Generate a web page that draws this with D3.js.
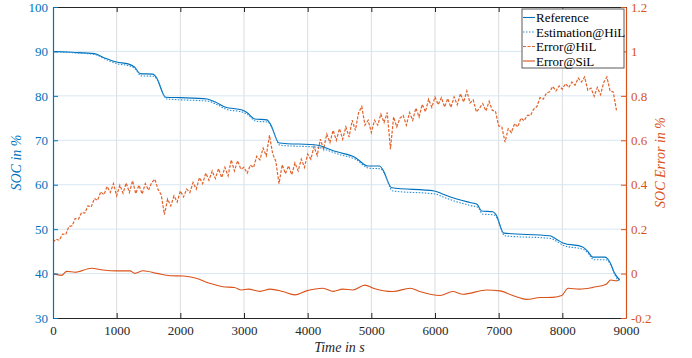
<!DOCTYPE html>
<html><head><meta charset="utf-8">
<script src="https://cdn.jsdelivr.net/npm/d3@7"></script>
<style>body{margin:0;background:#fff}svg,text{font-family:"Liberation Serif","Times New Roman",Times,serif}</style>
</head><body><svg id="c" width="692" height="358" font-family="Liberation Serif"></svg>
<script>
const xTicks=[0,1000,2000,3000,4000,5000,6000,7000,8000,9000];
const leftTicks=[30,40,50,60,70,80,90,100];
const rightTicks=[-0.2,0,0.2,0.4,0.6,0.8,1,1.2];
const seriesNames=["Reference","Estimation@HiL","Error@HiL","Error@SiL"];

const refT=[0,300,650,800,1000,1180,1280,1370,1570,1620,1770,2000,2420,2550,2700,2970,3050,3170,3360,3420,3550,4160,4300,4460,4740,4950,5130,5180,5320,5990,6100,6230,6550,6660,6730,6910,6960,7080,7800,7900,8010,8320,8400,8480,8670,8750,8820,8900];
const refV=[90,89.8,89.5,88.6,87.6,87.2,86.5,85,84.9,84.2,79.7,79.6,79.3,78.6,77.5,76.8,76.2,74.8,74.6,73.5,69.4,68.9,68.2,67.4,66.2,64.2,64.2,63.4,59.3,58.6,58.0,57.3,56.0,55.6,54.1,53.9,53.2,49.1,48.5,47.8,46.9,46.0,45.0,43.7,43.7,42.5,40.1,38.6];
const estV=[90,89.7,89.3,88.3,87.2,86.8,86.0,84.5,84.4,83.7,79.3,79.1,78.8,78.1,77.0,76.3,75.7,74.3,74.1,72.9,68.9,68.4,67.7,66.9,65.7,63.7,63.6,62.8,58.6,57.9,57.3,56.6,55.3,54.9,53.4,53.2,52.5,48.5,47.9,47.2,46.3,45.4,44.4,43.1,43.1,41.8,39.4,38.1];

const hilStep=50;
const hilV=[
0.142,0.155,0.150,0.178,0.176,0.212,0.215,0.248,0.245,0.275,
0.272,0.305,0.300,0.338,0.330,0.368,0.355,0.392,0.365,0.405,
0.350,0.398,0.362,0.408,0.365,0.418,0.360,0.398,0.358,0.405,
0.375,0.410,0.425,0.378,0.355,0.265,0.335,0.305,0.350,0.322,
0.372,0.345,0.380,0.365,0.410,0.380,0.432,0.405,0.452,0.420,
0.462,0.428,0.472,0.432,0.478,0.440,0.512,0.462,0.508,0.470,
0.478,0.452,0.488,0.478,0.528,0.512,0.565,0.530,0.622,0.540,
0.505,0.405,0.490,0.450,0.485,0.445,0.498,0.462,0.515,0.478,
0.538,0.515,0.572,0.532,0.605,0.560,0.628,0.590,0.645,0.600,
0.652,0.605,0.660,0.615,0.690,0.645,0.725,0.752,0.668,0.690,
0.635,0.690,0.668,0.718,0.680,0.725,0.560,0.705,0.660,0.700,
0.712,0.668,0.725,0.690,0.745,0.705,0.762,0.728,0.785,0.748,
0.795,0.760,0.792,0.750,0.788,0.748,0.795,0.760,0.810,0.772,
0.822,0.768,0.782,0.728,0.745,0.765,0.732,0.775,0.735,0.730,
0.665,0.660,0.592,0.652,0.635,0.675,0.660,0.700,0.688,0.712,
0.712,0.740,0.752,0.792,0.785,0.812,0.818,0.842,0.822,0.845,
0.830,0.855,0.838,0.862,0.848,0.880,0.862,0.885,0.825,0.835,
0.798,0.838,0.805,0.860,0.885,0.822,0.818,0.735];

const silT=[0,135,215,345,605,785,1000,1210,1285,1415,1630,1840,2050,2250,2460,2670,2850,2960,3070,3250,3410,3610,3800,3980,4240,4400,4550,4710,4900,5030,5340,5610,5760,6080,6280,6440,6810,7020,7220,7440,7650,7850,7990,8090,8270,8480,8690,8760,8850,8900];
const silV=[0,-0.008,0.01,0.006,0.024,0.016,0.012,0.012,0.001,0.013,0.001,-0.01,-0.011,-0.021,-0.044,-0.059,-0.063,-0.074,-0.07,-0.08,-0.07,-0.081,-0.096,-0.078,-0.066,-0.08,-0.07,-0.074,-0.052,-0.066,-0.081,-0.066,-0.081,-0.099,-0.081,-0.093,-0.074,-0.078,-0.099,-0.116,-0.108,-0.107,-0.099,-0.066,-0.07,-0.062,-0.048,-0.029,-0.033,-0.024];

const BLUE="#0072BD", BLUE2="#2b8fd6", ORANGE="#D95319", ORANGE2="#E2622A", DARK="#262626";
const FONT='"Liberation Serif","Times New Roman",serif';
const PL=53,PR=626,PT=7,PB=318;
const svg=d3.select("#c");
const x=d3.scaleLinear().domain([0,9000]).range([PL,PR]);
const yL=d3.scaleLinear().domain([30,100]).range([PB,PT]);
const yR=d3.scaleLinear().domain([-0.2,1.2]).range([PB,PT]);

svg.append("defs").append("clipPath").attr("id","clip").append("rect").attr("x",PL).attr("y",PT).attr("width",PR-PL).attr("height",PB-PT);

// grid
const grid=svg.append("g");
grid.selectAll("line.v").data(xTicks.slice(1,-1)).join("line").attr("class","v")
 .attr("x1",d=>x(d)).attr("x2",d=>x(d)).attr("y1",PT).attr("y2",PB)
 .attr("stroke","#dcdcdc").attr("stroke-width",1);
grid.selectAll("line.h").data(leftTicks.slice(1,-1)).join("line").attr("class","h")
 .attr("x1",PL).attr("x2",PR).attr("y1",d=>yL(d)).attr("y2",d=>yL(d))
 .attr("stroke","#d8e7f3").attr("stroke-width",1);

const plot=svg.append("g").attr("clip-path","url(#clip)");
const refData=refT.map((t,i)=>[t,refV[i]]);
const estData=refT.map((t,i)=>[t+15,estV[i]]);
const hilData=hilV.map((v,i)=>[i*hilStep,v]);
const silData=silT.map((t,i)=>[t,silV[i]]);
const lineL=d3.line().x(d=>x(d[0])).y(d=>yL(d[1])).curve(d3.curveMonotoneX);
const lineR=d3.line().x(d=>x(d[0])).y(d=>yR(d[1]));
const lineRs=d3.line().x(d=>x(d[0])).y(d=>yR(d[1])).curve(d3.curveMonotoneX);

plot.append("path").attr("d",lineRs(silData)).attr("fill","none").attr("stroke",ORANGE).attr("stroke-width",1.1);
plot.append("path").attr("d",lineR(hilData)).attr("fill","none").attr("stroke",ORANGE2).attr("stroke-width",1.2).attr("stroke-dasharray","3,1.5");
plot.append("path").attr("d",lineL(refData)).attr("fill","none").attr("stroke",BLUE).attr("stroke-width",1.1);
plot.append("path").attr("d",lineL(estData)).attr("fill","none").attr("stroke",BLUE2).attr("stroke-width",1.1).attr("stroke-dasharray","1.5,1.5");

// axes
const fmt=v=>String(+v.toFixed(1));
const styleAx=(sel,color)=>{sel.attr("font-family",FONT).attr("font-size",13);sel.selectAll("path").attr("stroke",color);sel.selectAll("line").attr("stroke",color);sel.selectAll("text").attr("fill",color).attr("font-size","13px").attr("font-family",FONT);};
const axB=svg.append("g").attr("transform",`translate(0,${PB})`).call(d3.axisBottom(x).tickValues(xTicks).tickSize(-5).tickSizeOuter(0).tickPadding(8).tickFormat(d3.format("d")));
styleAx(axB,DARK);
const axT=svg.append("g").attr("transform",`translate(0,${PT})`).call(d3.axisTop(x).tickValues(xTicks).tickSize(-5).tickSizeOuter(0).tickFormat(""));
styleAx(axT,DARK);
const axL=svg.append("g").attr("transform",`translate(${PL},0)`).call(d3.axisLeft(yL).tickValues(leftTicks).tickSize(-5).tickSizeOuter(0).tickPadding(5));
styleAx(axL,BLUE);
const axR=svg.append("g").attr("transform",`translate(${PR},0)`).call(d3.axisRight(yR).tickValues(rightTicks).tickSize(-5).tickSizeOuter(0).tickPadding(5).tickFormat(fmt));
styleAx(axR,ORANGE);
svg.selectAll(".domain").attr("stroke-width",1.2);

// labels
const lab=(t)=>t.attr("font-family",FONT).attr("font-size","14px").attr("font-style","italic").attr("text-anchor","middle");
lab(svg.append("text").attr("x",(PL+PR)/2).attr("y",352).attr("fill",DARK).text("Time in s"));
lab(svg.append("text").attr("transform",`translate(21,${(PT+PB)/2}) rotate(-90)`).attr("fill",BLUE).text("SOC in %"));
lab(svg.append("text").attr("transform",`translate(665,${(PT+PB)/2}) rotate(-90)`).attr("fill",ORANGE).text("SOC Error in %"));

// legend
const lg=svg.append("g").attr("transform","translate(522,9)");
lg.append("rect").attr("width",102).attr("height",59).attr("fill","#fff").attr("stroke","#5a5a5a").attr("stroke-width",1);
const styles=[{c:BLUE,d:null},{c:BLUE2,d:"1.5,1.5"},{c:ORANGE2,d:"3,1.5"},{c:ORANGE,d:null}];
seriesNames.forEach((n,i)=>{
  const yy=8.5+i*14.5;
  lg.append("line").attr("x1",1).attr("x2",13).attr("y1",yy).attr("y2",yy).attr("stroke",styles[i].c).attr("stroke-width",1.1).attr("stroke-dasharray",styles[i].d);
  lg.append("text").attr("x",14).attr("y",yy+4.5).attr("font-family",FONT).attr("font-size","13px").attr("fill","#000").text(n);
});
</script></body></html>
